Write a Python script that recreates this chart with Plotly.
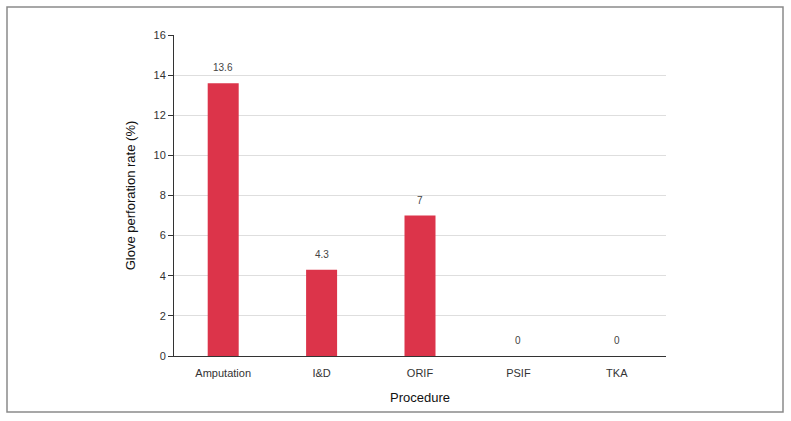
import plotly.graph_objects as go

procedures = ["Amputation", "I&D", "ORIF", "PSIF", "TKA"]
rates = [13.6, 4.3, 7, 0, 0]
rate_labels = ["13.6", "4.3", "7", "0", "0"]

W, H = 791, 421
L, R, T, B = 174, 125, 35, 65
pw, ph = W - L - R, H - T - B

fig = go.Figure()
fig.add_trace(go.Bar(
    x=procedures, y=rates,
    marker=dict(color="#DC344A", line=dict(width=0)),
    hoverinfo="x+y",
))

for p, v, lab in zip(procedures, rates, rate_labels):
    fig.add_annotation(x=p, y=v, text=lab, showarrow=False, yanchor="bottom",
                       yshift=8, font=dict(size=10, color="#444444"))

def px_x(x):
    return (x - L) / pw

def px_y(y):
    return (H - B - y) / ph

fig.add_shape(type="rect", xref="paper", yref="paper",
              x0=px_x(7), x1=px_x(783), y0=px_y(412), y1=px_y(7),
              line=dict(color="#8a8a8a", width=1.5), layer="below")

fig.update_layout(
    width=W, height=H,
    margin=dict(l=L, r=R, t=T, b=B),
    paper_bgcolor="white", plot_bgcolor="white",
    bargap=0.685,
    showlegend=False,
    font=dict(family="Liberation Sans, Arial, sans-serif", color="#333333", size=11),
    xaxis=dict(
        title=dict(text="Procedure", font=dict(size=13, color="#111111"), standoff=14),
        showline=True, linecolor="#333333", linewidth=1,
        ticks="", showgrid=False, ticklabelstandoff=7,
        tickfont=dict(size=11, color="#333333"),
    ),
    yaxis=dict(
        title=dict(text="Glove perforation rate (%)", font=dict(size=13, color="#111111"), standoff=14),
        range=[0, 16], dtick=2, tick0=0,
        showline=True, linecolor="#333333", linewidth=1,
        ticks="outside", ticklen=5, tickcolor="#333333",
        showgrid=True, gridcolor="#dedede", gridwidth=1,
        zeroline=False,
        tickfont=dict(size=11, color="#333333"),
    ),
)

fig.write_html("out.html", config={"displayModeBar": False},
               post_script="document.body.style.margin='0';")
